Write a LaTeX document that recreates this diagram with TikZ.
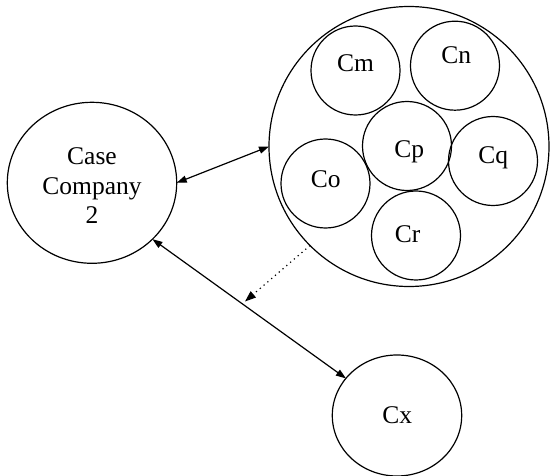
\documentclass[tikz,border=0pt]{standalone}
\usepackage{fontspec}
\setmainfont{Liberation Serif}
\usetikzlibrary{shapes.geometric,arrows.meta}
\begin{document}
\begin{tikzpicture}[x=1pt,y=-1pt,
  font=\fontsize{25.5}{29.7}\selectfont,
  every node/.style={inner sep=0pt, outer sep=0pt},
  ring/.style={draw, line width=1.2pt, ellipse},
  member/.style={draw, line width=1.2pt, circle, minimum size=89pt},
  lbl/.style={anchor=base},
  link/.style={line width=1.2pt, {Triangle[length=10pt,width=7pt]}-{Triangle[length=10pt,width=7pt]}},
  spill/.style={line width=1.2pt, dash pattern=on 1.2pt off 3.8pt, -{Triangle[length=11pt,width=8pt]}}]
  \useasboundingbox (0,0) rectangle (550,476);

  % focal company
  \node[ring, minimum width=169.4pt, minimum height=161pt] (case) at (92,182.8) {};
  \node[anchor=north, align=center] (casetxt) at (92,147.7) {Case\\Company\\2};

  % cluster of companies
  \node[draw, line width=1.2pt, circle, minimum size=280pt] (big) at (409,146.5) {};
  \node[member] (cm) at (355.5,70.5) {};
  \node[member] (cn) at (455,65.7) {};
  \node[member] (cp) at (407,146) {};
  \node[member] (co) at (325.5,183.5) {};
  \node[member] (cq) at (493,161) {};
  \node[member] (cr) at (416,235.5) {};
  \node[lbl] (cmtxt) at (355.5,72) {Cm};
  \node[lbl] (cntxt) at (456.2,63.3) {Cn};
  \node[lbl] (cptxt) at (409.2,157.3) {Cp};
  \node[lbl] (cqtxt) at (493.3,164) {Cq};
  \node[lbl] (cotxt) at (325.8,187.3) {Co};
  \node[lbl] (crtxt) at (407.5,242.3) {Cr};

  % outside company
  \node[ring, minimum width=129.4pt, minimum height=121pt] (cx) at (397,415.5) {};
  \node[lbl] (cxtxt) at (397.3,423.3) {Cx};

  % relations
  \draw[link] (case.0) -- (big.180);
  \draw[link] (case.-43) -- (cx.144);
  \coordinate (dtip) at (245,301.5);
  \draw[spill] (big.225) -- (dtip);
\end{tikzpicture}
\end{document}
